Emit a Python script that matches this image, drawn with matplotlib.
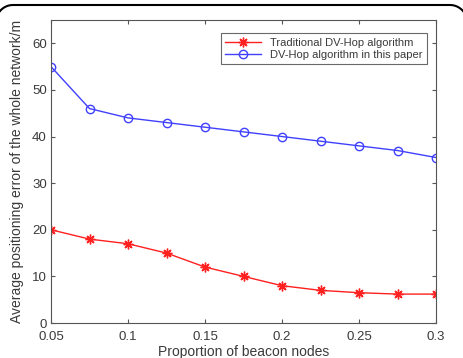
import numpy as np
import matplotlib
matplotlib.use('Agg')
import matplotlib.pyplot as plt
from matplotlib.lines import Line2D

plt.rcParams['font.family'] = 'Liberation Sans'

ratio = [0.05, 0.075, 0.1, 0.125, 0.15, 0.175, 0.2, 0.225, 0.25, 0.275, 0.3]
traditional = [20, 18, 17, 15, 12, 10, 8, 7, 6.5, 6.2, 6.2]
improved = [55, 46, 44, 43, 42, 41, 40, 39, 38, 37, 35.5]

txt = '#3a3a3a'
W, H = 463, 358

fig = plt.figure(figsize=(W / 100, H / 100), dpi=100)
ax = fig.add_axes([51/W, 1 - 323/H, 385/W, 303/H])

ax.plot(ratio, traditional, color='#ff2020', marker=(8, 2, 0), markersize=7,
        markeredgewidth=1, markeredgecolor='#ff2020', lw=1,
        label='Traditional DV-Hop algorithm')
ax.plot(ratio, improved, color='#4040ff', marker='o', markersize=6,
        markerfacecolor='none', markeredgecolor='#4040ff', lw=1,
        label='DV-Hop algorithm in this paper')

ax.set_xlim(0.05, 0.3)
ax.set_ylim(0, 65)
ax.set_xticks([0.05, 0.1, 0.15, 0.2, 0.25, 0.3])
ax.set_xticklabels(['0.05', '0.1', '0.15', '0.2', '0.25', '0.3'])
ax.set_yticks([0, 10, 20, 30, 40, 50, 60])
ax.tick_params(direction='in', top=True, right=True, labelsize=9.5,
               colors='#555555', labelcolor=txt, length=3)
ax.tick_params(axis='x', pad=6)
ax.tick_params(axis='y', pad=3)
for s in ax.spines.values():
    s.set_color('#555555')
    s.set_linewidth(0.8)

ax.set_xlabel('Proportion of beacon nodes', fontsize=10, color=txt, labelpad=1)
ax.set_ylabel('Average positioning error of the whole network/m', fontsize=10,
              color=txt)
ax.yaxis.set_label_coords(-0.07, 0.5)

leg = ax.legend(loc='upper right', fontsize=8, fancybox=False,
                edgecolor='#444444', handlelength=3.2, borderpad=0.4,
                labelspacing=0.2, bbox_to_anchor=(0.99, 0.975))
leg.get_frame().set_linewidth(0.8)
for t in leg.get_texts():
    t.set_color(txt)

# top edge of the rounded frame (rest of it is cropped off the image)
r = 17
top = H - 5
theta = np.linspace(np.pi, np.pi / 2, 20)
lx = (r - 4) + r * np.cos(theta)
ly = (top - r) + r * np.sin(theta)
theta2 = np.linspace(np.pi / 2, 0, 20)
rx = (W + 4 - r) + r * np.cos(theta2)
ry = (top - r) + r * np.sin(theta2)
bx = np.concatenate([lx, rx])
by = np.concatenate([ly, ry])
fig.add_artist(Line2D(bx / W, by / H, transform=fig.transFigure,
                      color='black', lw=1.5))

plt.savefig('out.png', dpi=100)
